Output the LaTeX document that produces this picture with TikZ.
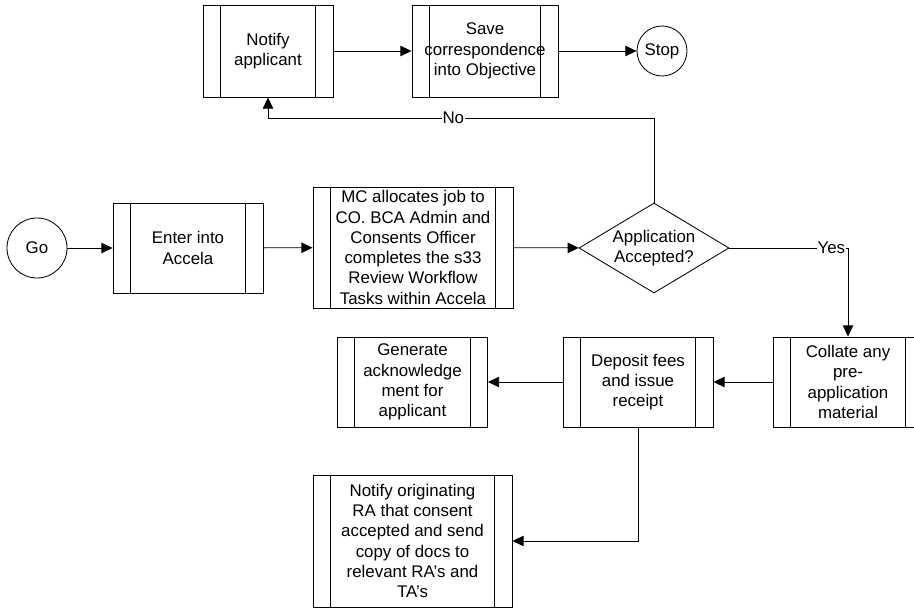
\documentclass[tikz,border=0pt]{standalone}
\usepackage{fontspec}
\setmainfont{Liberation Sans}
\usepackage{tikz}
\usetikzlibrary{positioning, arrows.meta, shapes.geometric, calc}
\tikzset{
  proc/.style={draw, rectangle, align=center, inner sep=0pt, minimum width=3.75cm, minimum height=2.25cm, font=\fontsize{12}{14.4}\selectfont,
    path picture={
      \draw ([xshift=0.43cm]path picture bounding box.north west) -- ([xshift=0.43cm]path picture bounding box.south west);
      \draw ([xshift=-0.43cm]path picture bounding box.north east) -- ([xshift=-0.43cm]path picture bounding box.south east);
    }},
  term/.style={draw, circle, inner sep=0pt, font=\fontsize{12}{14.4}\selectfont},
  decision/.style={draw, diamond, aspect=1.67, inner sep=0pt, minimum width=3.75cm, minimum height=2.25cm, align=center, font=\fontsize{12}{14.4}\selectfont},
  flow/.style={-{Triangle[length=0.28cm, width=0.26cm]}},
  lab/.style={fill=white, inner sep=0.5pt, font=\fontsize{12}{14.4}\selectfont}
}
\begin{document}
\begin{tikzpicture}[x=0.025cm, y=-0.025cm, line width=0.6pt]
  \clip (0,0) rectangle (914,609);

  % main row
  \node[term, minimum size=1.5cm] (go) at (37,248) {Go};
  \node[proc] (enter) at (188,248) {Enter into\\Accela};
  \node[proc, minimum width=5cm, minimum height=3.025cm] (mc) at (413,247.5) {MC allocates job to\\CO. BCA Admin and\\Consents Officer\\completes the s33\\Review Workflow\\Tasks within Accela};
  \node[decision] (dec) at (654,248) {Application\\Accepted?};

  % top row
  \node[proc, minimum width=3.25cm, minimum height=2.3cm] (notify) at (268,51) {Notify\\applicant};
  \node[proc, minimum width=3.65cm, minimum height=2.3cm] (save) at (485,51) {Save\\correspondence\\into Objective};
  \node[term, minimum size=1.25cm] (stop) at (662,51) {Stop};

  % lower rows
  \node[proc] (collate) at (848,382) {Collate any\\pre-\\application\\material};
  \node[proc] (deposit) at (638,382) {Deposit fees\\and issue\\receipt};
  \node[proc] (generate) at (412.5,382) {Generate\\acknowledge\\ment for\\applicant};
  \node[proc, minimum width=4.975cm, minimum height=3.3cm] (notifyra) at (412.5,541) {Notify originating\\RA that consent\\accepted and send\\copy of docs to\\relevant RA's and\\TA's};

  \coordinate (nobend) at (654,118);

  \draw[flow] (go) -- (enter);
  \draw[flow] (enter) -- (mc);
  \draw[flow] (mc) -- (dec);
  \draw[flow] (dec.north) -- (nobend) -| node[lab, pos=0.26] {No} (notify.south);
  \draw[flow] (notify) -- (save);
  \draw[flow] (save) -- (stop);
  \draw[flow] (dec.east) -| node[lab, pos=0.43] {Yes} (collate.north);
  \draw[flow] (collate) -- (deposit);
  \draw[flow] (deposit) -- (generate);
  \draw[flow] (deposit.south) |- (notifyra.east);
\end{tikzpicture}
\end{document}
